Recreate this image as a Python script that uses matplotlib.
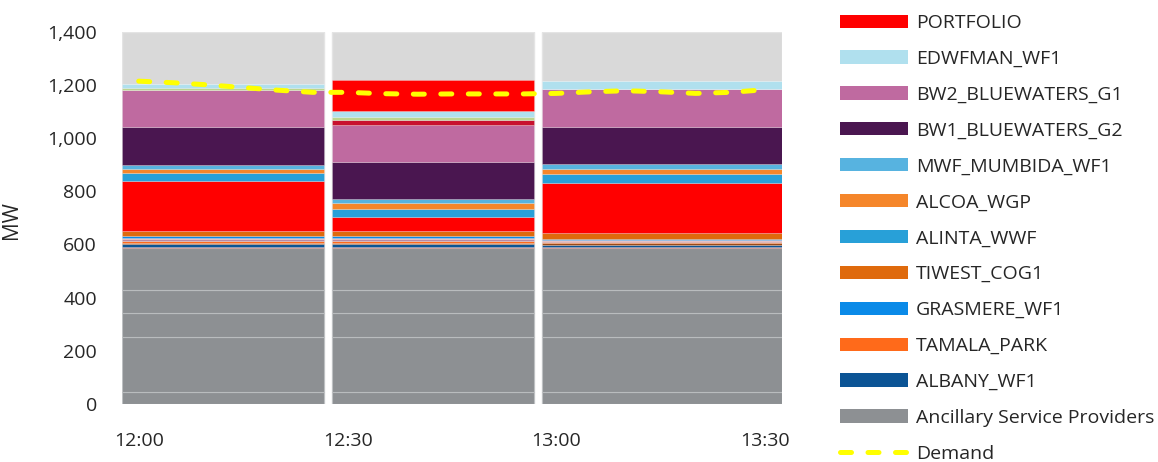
import matplotlib.pyplot as plt
from matplotlib.patches import Patch
from matplotlib.lines import Line2D

plt.rcParams['font.family'] = ['Open Sans', 'DejaVu Sans']

# Dispatch intervals, minutes after 12:00
interval_start = [-2.4, 27.7, 57.9]
interval_end = [26.6, 56.8, 92.4]

tick_minutes = [0, 30, 60, 90]
tick_labels = ['12:00', '12:30', '13:00', '13:30']

# Ancillary service provider blocks (MW, same in every interval)
ancillary_blocks = [44, 207, 90, 87, 158]

# Facility dispatch per interval (MW), listed bottom to top of the stack
thin_red = [4, 4, 3]
albany = [10, 10, 9]
brown = [7, 7, 6]
tamala = [7, 7, 6]
mauve = [5, 5, 4]
pink = [5, 5, 4]
grasmere = [6, 6, 3]
tiwest = [22, 22, 22]
portfolio = [188, 51, 188]
alinta = [27, 31, 34]
alcoa = [18, 21, 20]
mumbida = [15, 16, 17]
bw1 = [140, 138, 139]
bw2 = [139, 140, 142]
crimson = [0, 19, 0]
green = [9, 12, 0]
edwfman = [17, 20, 33]
portfolio_top = [0, 119, 0]

# Demand, 5-minute resolution
demand_minutes = [0, 5, 10, 15, 20, 25, 30, 35, 40, 45, 50, 55, 60, 65, 70, 75, 80, 85, 90]
demand = [1214, 1208, 1200, 1190, 1180, 1172, 1172, 1167, 1165, 1166,
          1166, 1166, 1168, 1174, 1178, 1174, 1168, 1172, 1182]

y_max = 1400
FS = 14
TXT = '#262626'

GRAY = '#8D9093'
stack = [
    (thin_red, '#B5473F', None),
    (albany, '#0B5495', 'ALBANY_WF1'),
    (brown, '#9A4A18', None),
    (tamala, '#FF6A1A', 'TAMALA_PARK'),
    (mauve, '#B98AA6', None),
    (pink, '#E79A98', None),
    (grasmere, '#0A8AE8', 'GRASMERE_WF1'),
    (tiwest, '#DF6A0D', 'TIWEST_COG1'),
    (portfolio, '#FF0000', 'PORTFOLIO'),
    (alinta, '#28A0D8', 'ALINTA_WWF'),
    (alcoa, '#F5862A', 'ALCOA_WGP'),
    (mumbida, '#57B3E0', 'MWF_MUMBIDA_WF1'),
    (bw1, '#4A1650', 'BW1_BLUEWATERS_G2'),
    (bw2, '#BF6AA0', 'BW2_BLUEWATERS_G1'),
    (crimson, '#C8102E', None),
    (green, '#BCD58E', None),
    (edwfman, '#B0E0EE', 'EDWFMAN_WF1'),
    (portfolio_top, '#FF0000', None),
]

fig = plt.figure(figsize=(11.58, 4.62), dpi=100)
ax = fig.add_axes([122 / 1158, 58 / 462, 660 / 1158, 372.3 / 462])

lefts = interval_start
widths = [e - s for s, e in zip(interval_start, interval_end)]
edge = (1, 1, 1, 0.35)

# column backgrounds
ax.bar(lefts, [y_max] * 3, width=widths, align='edge', color='#D9D9D9',
       edgecolor='#E4E4E4', linewidth=1.0, zorder=1)

bottom = [0.0, 0.0, 0.0]
for block in ancillary_blocks:
    vals = [block] * 3
    ax.bar(lefts, vals, width=widths, bottom=bottom, align='edge', color=GRAY,
           edgecolor=(0.75, 0.76, 0.77, 0.8), linewidth=0.8, zorder=2)
    bottom = [b + v for b, v in zip(bottom, vals)]

for vals, colour, name in stack:
    ax.bar(lefts, vals, width=widths, bottom=bottom, align='edge', color=colour,
           edgecolor=edge, linewidth=0.5, zorder=2)
    bottom = [b + v for b, v in zip(bottom, vals)]

dline, = ax.plot(demand_minutes, demand, color='#FFFF00', lw=3.6,
                 dashes=(2.2, 3.3), zorder=4)
dline.set_dash_capstyle('round')

ax.set_xlim(interval_start[0], interval_end[-1])
ax.set_ylim(0, y_max)
ax.set_yticks(range(0, y_max + 1, 200))
ax.set_yticklabels([f'{v:,}' for v in range(0, y_max + 1, 200)])
ax.set_xticks(tick_minutes)
ax.set_xticklabels(tick_labels)
for s in ax.spines.values():
    s.set_visible(False)
ax.tick_params(axis='both', length=0, labelsize=FS, colors=TXT)
ax.tick_params(axis='y', pad=18)
ax.tick_params(axis='x', pad=20)
ax.set_ylabel('MW', fontsize=FS + 1, color=TXT)
ax.yaxis.set_label_coords(-0.152, 0.494)

legend_order = ['PORTFOLIO', 'EDWFMAN_WF1', 'BW2_BLUEWATERS_G1', 'BW1_BLUEWATERS_G2',
                'MWF_MUMBIDA_WF1', 'ALCOA_WGP', 'ALINTA_WWF', 'TIWEST_COG1',
                'GRASMERE_WF1', 'TAMALA_PARK', 'ALBANY_WF1']
colour_by_name = {n: c for _, c, n in stack if n}
handles = [Patch(facecolor=colour_by_name[n], edgecolor='none') for n in legend_order]
labels = list(legend_order)
handles.append(Patch(facecolor=GRAY, edgecolor='none'))
labels.append('Ancillary Service Providers')
handles.append(Line2D([], [], color='#FFFF00', lw=3.6, dashes=(2.2, 3.3),
                      dash_capstyle='round'))
labels.append('Demand')

fig.legend(handles, labels, loc='upper left', bbox_to_anchor=(840 / 1158, 1 - 14 / 462),
           frameon=False, fontsize=FS, handlelength=3.5, handleheight=0.67,
           handletextpad=0.41, labelspacing=0.92, borderpad=0, borderaxespad=0,
           labelcolor=TXT)

fig.savefig('out.png', dpi=100)
